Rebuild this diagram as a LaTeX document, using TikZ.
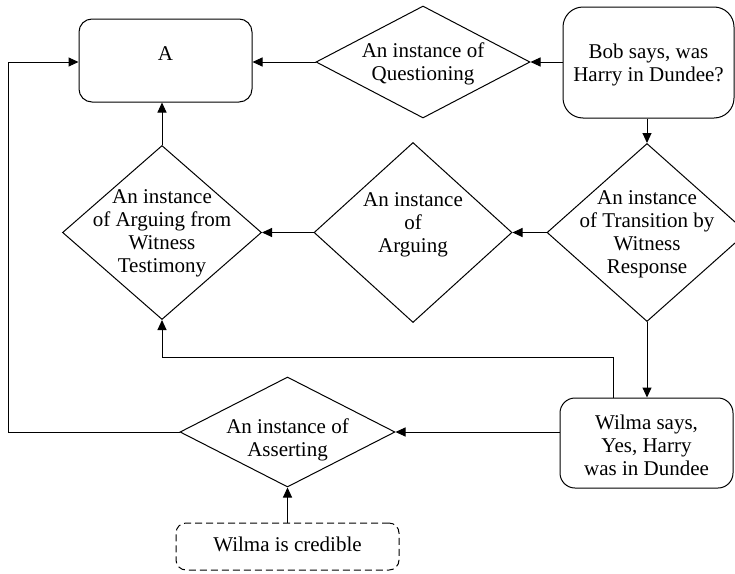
\documentclass[tikz,border=0pt]{standalone}
\usepackage{fontspec}
\setmainfont{Liberation Serif}
\usetikzlibrary{arrows.meta,shapes.geometric}
\begin{document}
\begin{tikzpicture}[x=1pt,y=-1pt,
  rbox/.style={draw, line width=1pt, rounded corners=#1, inner sep=0pt, rectangle},
  rbox/.default=12pt,
  dia/.style={draw, diamond, line width=1pt, inner sep=0pt},
  lbl/.style={inner sep=0pt, align=center, font=\fontsize{21}{23}\selectfont},
  conn/.style={line width=1pt, -{Triangle[length=10pt,width=9pt]}},
]
\path[use as bounding box] (0,0) rectangle (735,573);

% shapes
\node[rbox=13pt, minimum width=173pt, minimum height=83pt] (A) at (165.5,60.5) {};
\node[dia, minimum width=214pt, minimum height=112pt] (Q) at (423,62) {};
\node[rbox=20pt, minimum width=171pt, minimum height=111pt] (Bob) at (648.5,62.5) {};
\node[dia, minimum width=200pt, minimum height=178pt] (T) at (647,232.5) {};
\node[dia, minimum width=198pt, minimum height=180pt] (Arg) at (413,232.5) {};
\node[dia, minimum width=199pt, minimum height=174pt] (AFWT) at (162,232.5) {};
\node[rbox=15pt, minimum width=173pt, minimum height=90pt] (Wilma) at (646.5,443) {};
\node[dia, minimum width=215pt, minimum height=110pt] (Ast) at (287.5,432) {};
\node[rbox=10pt, minimum width=223pt, minimum height=47pt, dash pattern=on 7pt off 4pt] (Cred) at (287.5,546.5) {};

% labels
\node[lbl] (tA) at (165.5,54) {A};
\node[lbl] (tQ) at (423,64) {An instance of\\Questioning};
\node[lbl] (tBob) at (648.5,65) {Bob says, was\\Harry in Dundee?};
\node[lbl] (tT) at (647,234) {An instance\\of Transition by\\Witness\\Response};
\node[lbl] (tArg) at (413,225) {An instance\\of\\Arguing};
\node[lbl] (tAFWT) at (162,233) {An instance\\of Arguing from\\Witness\\Testimony};
\node[lbl] (tWilma) at (646.5,445) {Wilma says,\\Yes, Harry\\was in Dundee};
\node[lbl] (tAst) at (287.5,440) {An instance of\\Asserting};
\node[lbl] (tCred) at (287.5,544) {Wilma is credible};

% connectors
\coordinate (wa) at (613,357);
\coordinate (lft) at (8,62);
\draw[conn] (Q.west) -- (Q.west -| A.east);
\draw[conn] (Q.east -| Bob.west) -- (Q.east);
\draw[conn] (Bob.south -| T.north) -- (T.north);
\draw[conn] (T.west) -- (Arg.east);
\draw[conn] (Arg.west) -- (AFWT.east);
\draw[conn] (AFWT.north) -- (AFWT.north |- A.south);
\draw[conn] (T.south) -- (T.south |- Wilma.north);
\draw[conn] (wa |- Wilma.north) -- (wa) -| (AFWT.south);
\draw[conn] (Wilma.west |- Ast.east) -- (Ast.east);
\draw[conn] (Ast.west) -| (lft) -- (A.west |- lft);
\draw[conn] (Cred.north) -- (Ast.south);
\end{tikzpicture}
\end{document}
